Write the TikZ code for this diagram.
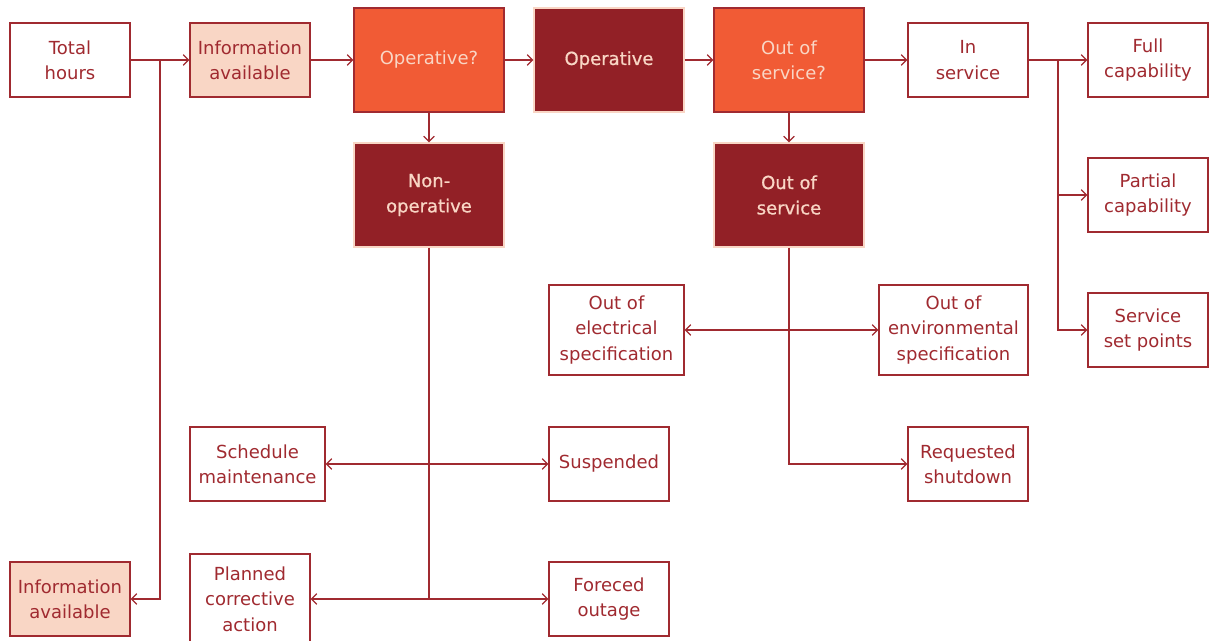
\documentclass[tikz,border=0pt]{standalone}
\usepackage{fontspec}
\setmainfont{DejaVu Sans}
\newfontfamily\heavyfont[FakeBold=0.8]{DejaVu Sans}
\usetikzlibrary{arrows.meta}
\definecolor{deepred}{RGB}{146,32,38}
\definecolor{linered}{RGB}{160,42,48}
\definecolor{flame}{RGB}{241,91,53}
\definecolor{peach}{RGB}{249,214,197}
\tikzset{
  box/.style={draw=linered, line width=0.9pt, fill=white, text=linered, align=center,
    font=\fontsize{13.5}{19}\selectfont, inner sep=0pt, minimum width=90pt, minimum height=55.5pt},
  infobox/.style={box, fill=peach},
  askbox/.style={box, fill=flame, text=peach, minimum width=112.5pt, minimum height=78pt},
  statebox/.style={box, draw=peach, fill=deepred, text=peach, minimum width=112.5pt, minimum height=78pt,
    font=\fontsize{13.5}{19}\heavyfont},
  link/.style={draw=linered, line width=0.9pt, -{Straight Barb[length=4pt,width=8pt]}},
  twoway/.style={link, {Straight Barb[length=4pt,width=8pt]}-{Straight Barb[length=4pt,width=8pt]}},
  trunk/.style={draw=linered, line width=0.9pt},
}
\begin{document}
\begin{tikzpicture}[x=0.75pt,y=0.75pt,yscale=-1,xscale=1]
\useasboundingbox (0,0) rectangle (1211,641);

%Top row
\node[box] (total) at (70,60) {Total\\hours};
\node[infobox] (infotop) at (250,60) {Information\\available};
\node[askbox] (opask) at (429,60) {Operative?};
\node[statebox] (oper) at (609,60) {Operative};
\node[askbox] (outask) at (789,60) {Out of\\service?};
\node[box] (insvc) at (968,60) {In\\service};
\node[box] (full) at (1148,60) {Full\\capability};

%Second row
\node[statebox] (nonop) at (429,195) {Non-\\operative};
\node[statebox] (outsvc) at (789,195) {Out of\\service};
\node[box] (partial) at (1148,195) {Partial\\capability};

%Out of service branch
\node[box, minimum width=101.25pt, minimum height=67.5pt] (elec) at (616.5,330) {Out of\\electrical\\specification};
\node[box, minimum width=111.75pt, minimum height=67.5pt] (env) at (953.5,330) {Out of\\environmental\\specification};
\node[box] (setpts) at (1148,330) {Service\\set points};
\node[box] (shutdown) at (968,464) {Requested\\shutdown};

%Non-operative branch
\node[box, minimum width=101.25pt] (sched) at (257.5,464) {Schedule\\maintenance};
\node[box] (susp) at (609,464) {Suspended};
\node[box, minimum height=67.5pt] (planned) at (250,599) {Planned\\corrective\\action};
\node[box] (forced) at (609,599) {Foreced\\outage};
\node[infobox] (infobot) at (70,599) {Information\\available};

%Split points
\coordinate (split1) at (160,60);
\coordinate (split2) at (1058,60);

%Straight Lines
\draw[link] (total) -- (infotop);
\draw[link] (split1) |- (infobot);
\draw[link] (infotop) -- (opask);
\draw[link] (opask) -- (oper);
\draw[link] (oper) -- (outask);
\draw[link] (outask) -- (insvc);
\draw[link] (opask) -- (nonop);
\draw[link] (outask) -- (outsvc);
\draw[link] (insvc) -- (full);
\draw[link] (split2) |- (partial);
\draw[link] (split2) |- (setpts);
\draw[trunk] (nonop.south) -- (nonop.south |- planned.center);
\draw[twoway] (sched) -- (susp);
\draw[twoway] (planned) -- (forced);
\draw[link] (outsvc.south) |- (shutdown);
\draw[twoway] (elec) -- (env);

\end{tikzpicture}
\end{document}
